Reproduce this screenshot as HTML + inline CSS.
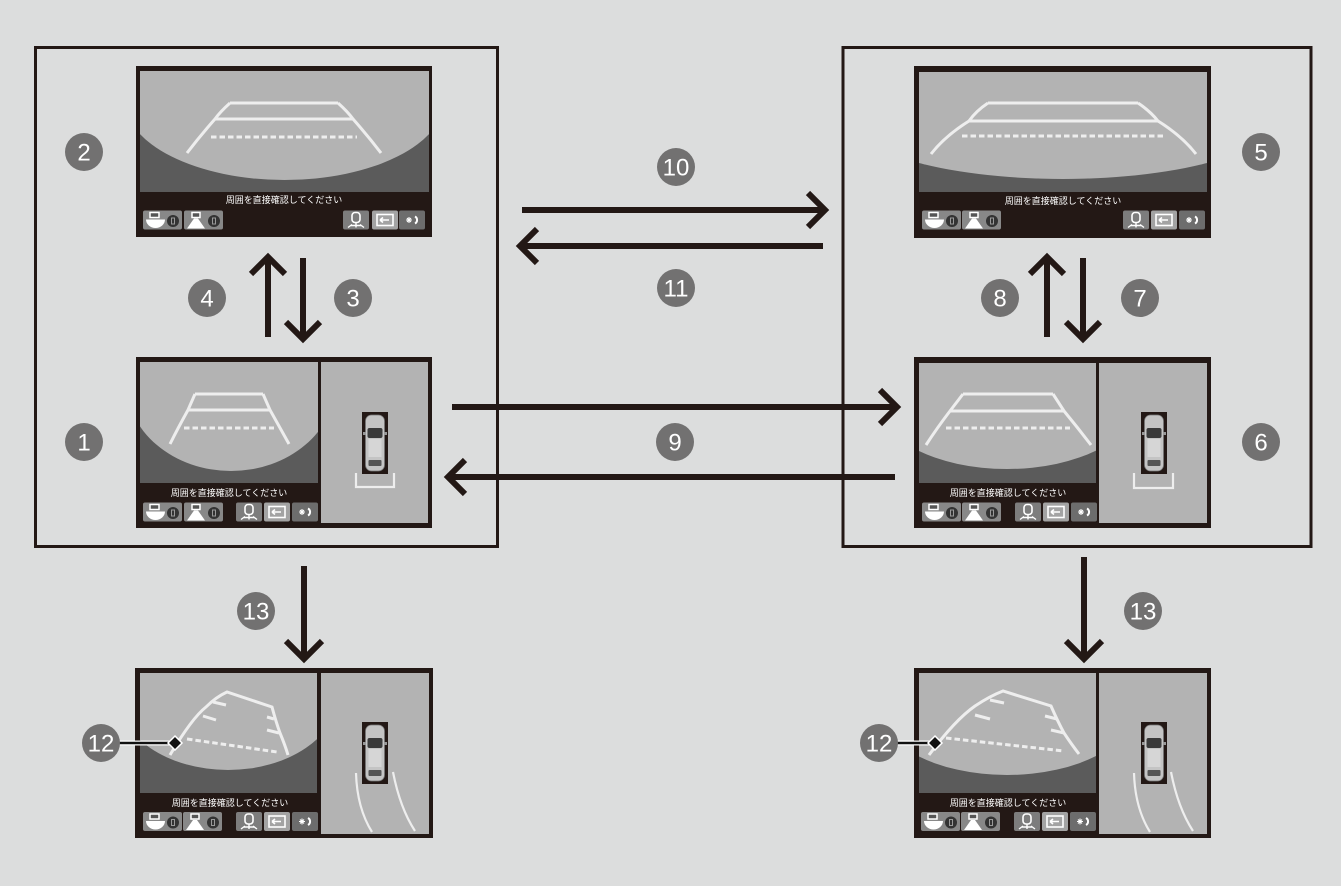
<!DOCTYPE html>
<html><head><meta charset="utf-8"><style>
html,body{margin:0;padding:0;background:#dcdddd;}
svg{display:block;}
.cap{font-family:"Liberation Sans","Noto Sans CJK JP",sans-serif;font-size:9px;fill:#fff;text-anchor:middle;}
.num{font-family:"Liberation Sans",sans-serif;font-size:24px;fill:#fff;text-anchor:middle;}
</style></head><body>
<svg width="1341" height="886" viewBox="0 0 1341 886" xmlns="http://www.w3.org/2000/svg">
<defs>
<clipPath id="c2"><rect x="140" y="71" width="289" height="121"/></clipPath>
<clipPath id="c1"><rect x="140" y="362" width="178" height="121"/></clipPath>
<clipPath id="c5"><rect x="919" y="72" width="288" height="120"/></clipPath>
<clipPath id="c6"><rect x="919" y="363" width="177" height="120"/></clipPath>
<clipPath id="cb1"><rect x="140" y="673" width="177" height="120"/></clipPath>
<clipPath id="cb2"><rect x="919" y="673" width="177" height="120"/></clipPath>
<g id="icA"><rect x="0" y="0" width="39" height="19" rx="2" fill="#888"/><rect x="7" y="2" width="9" height="5" fill="#555" stroke="#fff" stroke-width="1.5"/><path d="M3,9 H22 A9.5,8.5 0 0 1 3,9 Z" fill="#fff"/><circle cx="30" cy="10.5" r="6" fill="#333"/><rect x="28.5" y="7.5" width="3" height="6" fill="none" stroke="#999" stroke-width="1"/></g>
<g id="icB"><rect x="0" y="0" width="39" height="19" rx="2" fill="#888"/><rect x="8" y="2" width="8" height="5" fill="#555" stroke="#fff" stroke-width="1.5"/><polygon points="10,8 14,8 21,18 3,18" fill="#fff"/><circle cx="30" cy="10.5" r="6" fill="#333"/><rect x="28.5" y="7.5" width="3" height="6" fill="none" stroke="#999" stroke-width="1"/></g>
<g id="icC"><rect x="0" y="0" width="26" height="19" rx="2" fill="#7d7d7d"/><rect x="9" y="2" width="8" height="10" rx="3" fill="none" stroke="#fff" stroke-width="1.6"/><path d="M13,12 V17 M5,17 L9,14 M21,17 L17,14 M8,15 H18" stroke="#fff" stroke-width="1.4" fill="none"/></g>
<g id="icD"><rect x="0" y="0" width="26" height="19" rx="2" fill="#a3a3a3"/><rect x="5" y="4" width="16" height="11" fill="none" stroke="#fff" stroke-width="1.6"/><path d="M8,9.5 H17 M8,9.5 L11,7 M8,9.5 L11,12" stroke="#fff" stroke-width="1.6" fill="none"/></g>
<g id="icE"><rect x="0" y="0" width="26" height="19" rx="2" fill="#6d6d6d"/><path d="M7,9.5 H13 M10,6.5 V12.5 M8,7.5 L12,11.5 M12,7.5 L8,11.5" stroke="#fff" stroke-width="1.1"/><path d="M16,6 A4,4 0 0 1 16,13" stroke="#fff" stroke-width="2" fill="none"/></g>
<g id="car"><rect x="0" y="0" width="26" height="62" fill="#231815"/><rect x="3.5" y="3" width="19" height="56" rx="6" fill="#c4c4c4" stroke="#777" stroke-width="0.8"/><rect x="5.5" y="16" width="15" height="10" rx="2" fill="#3a3a3a"/><rect x="6.5" y="27" width="13" height="18" fill="#d6d6d6"/><rect x="6.5" y="48" width="13" height="6" rx="1" fill="#555"/><rect x="1" y="20" width="3" height="3" fill="#999"/><rect x="22" y="20" width="3" height="3" fill="#999"/></g>
</defs>

<!-- big boxes -->
<rect x="35.5" y="47.5" width="462" height="499" fill="none" stroke="#231815" stroke-width="3"/>
<rect x="843" y="47.5" width="468" height="499" fill="none" stroke="#231815" stroke-width="3"/>

<!-- ============ Screen 2 ============ -->
<rect x="136" y="66" width="296" height="171" fill="#231815"/>
<g clip-path="url(#c2)">
<rect x="140" y="71" width="289" height="121" fill="#5b5b5b"/>
<ellipse cx="284.5" cy="99.5" rx="160" ry="80.5" fill="#b3b3b3"/>
</g>
<g stroke="#eeeeee" stroke-width="3" fill="none">
<path d="M230,103 H338 M215,119 H353 M230,103 Q220,112 215,119 Q200,136 187,153 M338,103 Q348,112 353,119 Q368,136 381,153"/>
<path d="M211,137 H357" stroke-dasharray="5.5 3"/>
</g>
<text class="cap" x="284" y="203">周囲を直接確認してください</text>
<use href="#icA" x="143" y="210.5"/><use href="#icB" x="184" y="210.5"/>
<use href="#icC" x="343" y="210.5"/><use href="#icD" x="372" y="210.5"/><use href="#icE" x="399" y="210.5"/>

<!-- ============ Screen 1 ============ -->
<rect x="136" y="357" width="296" height="171" fill="#231815"/>
<g clip-path="url(#c1)">
<rect x="140" y="362" width="178" height="121" fill="#5b5b5b"/>
<ellipse cx="231" cy="382" rx="105" ry="89" fill="#b3b3b3"/>
</g>
<rect x="321" y="362" width="107" height="161" fill="#b3b3b3"/>
<g stroke="#eeeeee" stroke-width="3" fill="none">
<path d="M195,394 H263 M188,410 H270 M195,394 L188,410 Q178,428 170,444 M263,394 L270,410 Q280,428 289,444"/>
<path d="M184,428 H274" stroke-dasharray="5.5 3"/>
</g>
<text class="cap" x="229" y="496">周囲を直接確認してください</text>
<use href="#icA" x="143" y="502.5"/><use href="#icB" x="184" y="502.5"/>
<use href="#icC" x="236" y="502.5"/><use href="#icD" x="264" y="502.5"/><use href="#icE" x="292" y="502.5"/>
<use href="#car" x="362" y="412"/>
<path d="M356,473 V487 H394 V473" stroke="#eeeeee" stroke-width="2.2" fill="none"/>

<!-- ============ Screen 5 ============ -->
<rect x="914" y="66" width="297" height="172" fill="#231815"/>
<g clip-path="url(#c5)">
<rect x="919" y="72" width="288" height="120" fill="#5b5b5b"/>
<ellipse cx="1063" cy="113.5" rx="220" ry="65.5" fill="#b3b3b3"/>
</g>
<g stroke="#eeeeee" stroke-width="3" fill="none">
<path d="M988,103 H1138 M969,121 H1158 M988,103 Q976,111 969,121 Q945,136 931,154 M1138,103 Q1150,111 1158,121 Q1182,136 1196,154"/>
<path d="M962,136 H1166" stroke-dasharray="5.5 3"/>
</g>
<text class="cap" x="1063" y="204">周囲を直接確認してください</text>
<use href="#icA" x="922" y="210.5"/><use href="#icB" x="962" y="210.5"/>
<use href="#icC" x="1123" y="210.5"/><use href="#icD" x="1151" y="210.5"/><use href="#icE" x="1179" y="210.5"/>

<!-- ============ Screen 6 ============ -->
<rect x="914" y="357" width="297" height="171" fill="#231815"/>
<g clip-path="url(#c6)">
<rect x="919" y="363" width="177" height="120" fill="#5b5b5b"/>
<ellipse cx="1007" cy="401" rx="130" ry="68" fill="#b3b3b3"/>
</g>
<rect x="1099" y="363" width="108" height="160" fill="#b3b3b3"/>
<g stroke="#eeeeee" stroke-width="3" fill="none">
<path d="M963,394 H1053 M950,411 H1064 M963,394 L950,411 Q937,428 926,445 M1053,394 L1064,411 Q1078,428 1091,445"/>
<path d="M946,428 H1070" stroke-dasharray="5.5 3"/>
</g>
<text class="cap" x="1008" y="496">周囲を直接確認してください</text>
<use href="#icA" x="922" y="502.5"/><use href="#icB" x="962" y="502.5"/>
<use href="#icC" x="1015" y="502.5"/><use href="#icD" x="1043" y="502.5"/><use href="#icE" x="1071" y="502.5"/>
<use href="#car" x="1141" y="412"/>
<path d="M1134,473 V488 H1173 V473" stroke="#eeeeee" stroke-width="2.2" fill="none"/>

<!-- ============ Bottom-left ============ -->
<rect x="135" y="668" width="298" height="170" fill="#231815"/>
<g clip-path="url(#cb1)">
<rect x="140" y="673" width="177" height="120" fill="#5b5b5b"/>
<ellipse cx="228" cy="695" rx="110" ry="75" fill="#b3b3b3"/>
</g>
<rect x="321" y="673" width="108" height="161" fill="#b3b3b3"/>
<g stroke="#eeeeee" stroke-width="3" fill="none">
<path d="M170,755 Q192,718 206,707 Q216,697 227,692 L272,707 Q276,722 280,733 Q285,745 288,755"/>
<path d="M213,702 L226,705 M203,716 L216,720 M274,719 L267,717 M279,733 L267,730"/>
<path d="M187,739 L277,752" stroke-dasharray="5.5 3"/>
</g>
<text class="cap" x="230" y="806">周囲を直接確認してください</text>
<use href="#icA" x="143" y="812"/><use href="#icB" x="183" y="812"/>
<use href="#icC" x="236" y="812"/><use href="#icD" x="264" y="812"/><use href="#icE" x="292" y="812"/>
<use href="#car" x="362" y="722"/>
<g stroke="#eeeeee" stroke-width="2.2" fill="none">
<path d="M356,773 Q357,808 372,832"/>
<path d="M393,772 Q400,808 415,831"/>
</g>
<path d="M118,743 H175" stroke="#fff" stroke-width="5"/>
<path d="M118,743 H175" stroke="#111" stroke-width="2.5"/>
<polygon points="175,736 182,743 175,750 168,743" fill="#111" stroke="#fff" stroke-width="1.5"/>

<!-- ============ Bottom-right ============ -->
<rect x="914" y="668" width="297" height="170" fill="#231815"/>
<g clip-path="url(#cb2)">
<rect x="919" y="673" width="177" height="120" fill="#5b5b5b"/>
<ellipse cx="1007" cy="705" rx="130" ry="70" fill="#b3b3b3"/>
</g>
<rect x="1099" y="673" width="108" height="161" fill="#b3b3b3"/>
<g stroke="#eeeeee" stroke-width="3" fill="none">
<path d="M929,755 Q955,720 975,706 Q990,696 1003,691 L1051,706 Q1058,722 1064,733 Q1072,745 1079,754"/>
<path d="M990,700 L1004,703 M975,715 L990,719 M1057,719 L1045,716 M1064,733 L1051,730"/>
<path d="M946,738 L1064,751" stroke-dasharray="5.5 3"/>
</g>
<text class="cap" x="1008" y="806">周囲を直接確認してください</text>
<use href="#icA" x="921" y="812"/><use href="#icB" x="961" y="812"/>
<use href="#icC" x="1014" y="812"/><use href="#icD" x="1042" y="812"/><use href="#icE" x="1070" y="812"/>
<use href="#car" x="1141" y="722"/>
<g stroke="#eeeeee" stroke-width="2.2" fill="none">
<path d="M1134,773 Q1135,808 1150,832"/>
<path d="M1171,772 Q1178,808 1193,831"/>
</g>
<path d="M896,743 H935" stroke="#fff" stroke-width="5"/>
<path d="M896,743 H935" stroke="#111" stroke-width="2.5"/>
<polygon points="935,736 942,743 935,750 928,743" fill="#111" stroke="#fff" stroke-width="1.5"/>

<!-- ============ Arrows ============ -->
<g stroke="#231815" stroke-width="6" fill="none" stroke-linejoin="miter">
<path d="M522,210 H823"/><path d="M808,193 L825,210 L808,227"/>
<path d="M823,246 H523"/><path d="M537,229 L520,246 L537,263"/>
<path d="M452,407 H896"/><path d="M880,390 L897,407 L880,424"/>
<path d="M895,477 H451"/><path d="M465,460 L448,477 L465,494"/>
<path d="M268,337 V259"/><path d="M251,274 L268,257 L285,274"/>
<path d="M303,258 V337"/><path d="M286,322 L303,339 L320,322"/>
<path d="M1047,337 V259"/><path d="M1030,274 L1047,257 L1064,274"/>
<path d="M1083,258 V337"/><path d="M1066,322 L1083,339 L1100,322"/>
<path d="M304,566 V656"/><path d="M286,641 L304,659 L322,641"/>
<path d="M1084,557 V656"/><path d="M1066,641 L1084,659 L1102,641"/>
</g>

<!-- ============ Number circles ============ -->
<g fill="#727171">
<circle cx="84" cy="442" r="19"/>
<circle cx="84" cy="152" r="19"/>
<circle cx="353" cy="298" r="19"/>
<circle cx="207" cy="298" r="19"/>
<circle cx="1261" cy="152" r="19"/>
<circle cx="1261" cy="442" r="19"/>
<circle cx="1140" cy="298" r="19"/>
<circle cx="1000" cy="298" r="19"/>
<circle cx="675" cy="442" r="19"/>
<circle cx="676" cy="167" r="19"/>
<circle cx="676" cy="288" r="19"/>
<circle cx="101" cy="743" r="19"/>
<circle cx="879" cy="743" r="19"/>
<circle cx="256" cy="611" r="19"/>
<circle cx="1143" cy="611" r="19"/>
</g>
<g class="num">
<text class="num" x="84" y="450.5">1</text>
<text class="num" x="84" y="160.5">2</text>
<text class="num" x="353" y="306.5">3</text>
<text class="num" x="207" y="306.5">4</text>
<text class="num" x="1261" y="160.5">5</text>
<text class="num" x="1261" y="450.5">6</text>
<text class="num" x="1140" y="306.5">7</text>
<text class="num" x="1000" y="306.5">8</text>
<text class="num" x="675" y="450.5">9</text>
<text class="num" x="676" y="175.5">10</text>
<text class="num" x="676" y="296.5">11</text>
<text class="num" x="101" y="751.5">12</text>
<text class="num" x="879" y="751.5">12</text>
<text class="num" x="256" y="619.5">13</text>
<text class="num" x="1143" y="619.5">13</text>
</g>
</svg>
</body></html>
